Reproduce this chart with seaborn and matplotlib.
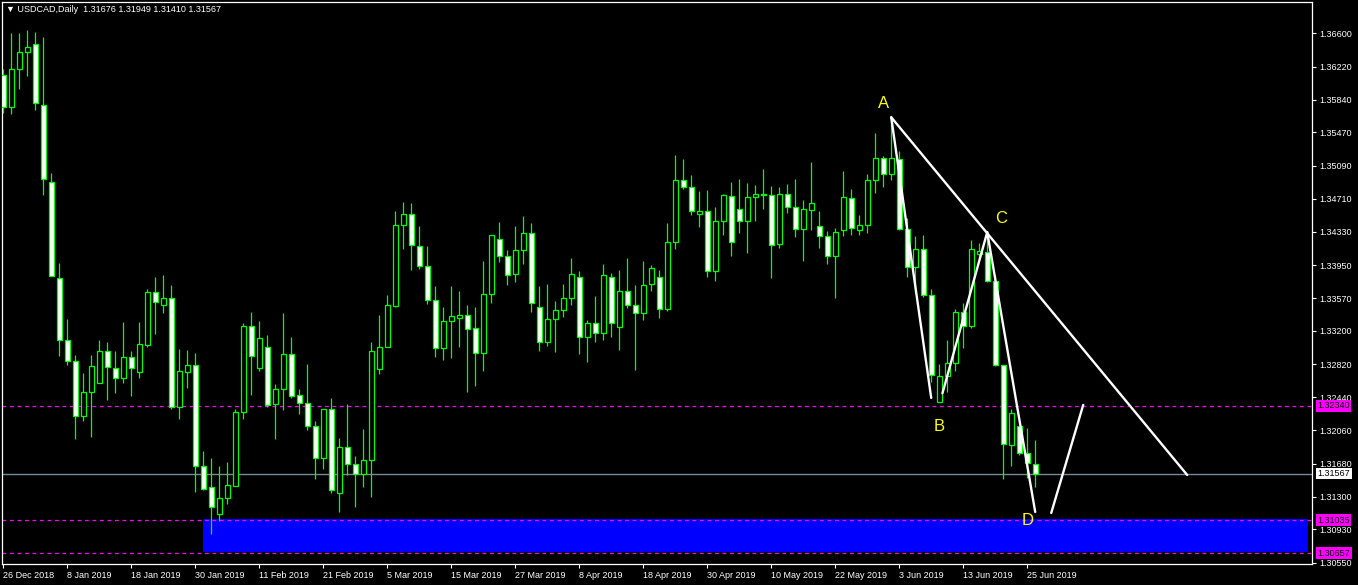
import numpy as np
import pandas as pd
import seaborn as sns
import matplotlib.pyplot as plt

# daily USDCAD candles (oldest first)
opens = [1.3612, 1.3576, 1.3619, 1.3639, 1.3648, 1.3578, 1.3490, 1.3380, 1.3310, 1.3286,
         1.3222, 1.3250, 1.3260, 1.3297, 1.3278, 1.3266, 1.3290, 1.3273, 1.3304, 1.3364,
         1.3350, 1.3358, 1.3233, 1.3273, 1.3281, 1.3165, 1.3141, 1.3111, 1.3129, 1.3143,
         1.3227, 1.3325, 1.3277, 1.3301, 1.3236, 1.3253, 1.3294, 1.3247, 1.3237, 1.3211,
         1.3175, 1.3231, 1.3134, 1.3187, 1.3168, 1.3156, 1.3172, 1.3276, 1.3301, 1.3348,
         1.3441, 1.3454, 1.3417, 1.3394, 1.3355, 1.3300, 1.3331, 1.3335, 1.3338, 1.3323,
         1.3295, 1.3362, 1.3425, 1.3406, 1.3385, 1.3412, 1.3432, 1.3347, 1.3307, 1.3334,
         1.3344, 1.3358, 1.3381, 1.3313, 1.3329, 1.3317, 1.3382, 1.3324, 1.3366, 1.3350,
         1.3340, 1.3373, 1.3381, 1.3345, 1.3421, 1.3492, 1.3484, 1.3454, 1.3457, 1.3388,
         1.3445, 1.3474, 1.3459, 1.3446, 1.3473, 1.3476, 1.3475, 1.3419, 1.3476, 1.3461,
         1.3436, 1.3458, 1.3440, 1.3428, 1.3405, 1.3435, 1.3472, 1.3435, 1.3441, 1.3492,
         1.3518, 1.3499, 1.3517, 1.3436, 1.3393, 1.3414, 1.3361, 1.3238, 1.3268, 1.3283,
         1.3341, 1.3325, 1.3408, 1.3410, 1.3377, 1.3281, 1.3189, 1.3211, 1.3180, 1.31676]
highs = [1.3619, 1.3661, 1.3661, 1.3664, 1.3662, 1.3656, 1.3501, 1.3397, 1.3334, 1.3292,
         1.3272, 1.3292, 1.3310, 1.3307, 1.3297, 1.3330, 1.3297, 1.3330, 1.3368, 1.3381,
         1.3384, 1.3372, 1.3299, 1.3298, 1.3295, 1.3183, 1.3175, 1.3165, 1.3170, 1.3230,
         1.3329, 1.3341, 1.3331, 1.3315, 1.3259, 1.3340, 1.3313, 1.3254, 1.3282, 1.3217,
         1.3231, 1.3243, 1.3197, 1.3236, 1.3177, 1.3208, 1.3307, 1.3338, 1.3361, 1.3457,
         1.3467, 1.3466, 1.3440, 1.3417, 1.3371, 1.3347, 1.3371, 1.3366, 1.3349, 1.3347,
         1.3400, 1.3429, 1.3444, 1.3412, 1.3440, 1.3451, 1.3443, 1.3371, 1.3374, 1.3354,
         1.3374, 1.3403, 1.3388, 1.3332, 1.3360, 1.3396, 1.3386, 1.3390, 1.3403, 1.3372,
         1.3400, 1.3395, 1.3390, 1.3443, 1.3521, 1.3517, 1.3498, 1.3480, 1.3481, 1.3462,
         1.3477, 1.3490, 1.3494, 1.3489, 1.3487, 1.3505, 1.3486, 1.3485, 1.3488, 1.3494,
         1.3470, 1.3513, 1.3457, 1.3434, 1.3438, 1.3503, 1.3482, 1.3452, 1.3499, 1.3546,
         1.3520, 1.3564, 1.3526, 1.3449, 1.3428, 1.3430, 1.3368, 1.3282, 1.3310, 1.3345,
         1.3352, 1.3424, 1.3420, 1.3433, 1.3384, 1.3281, 1.3231, 1.3211, 1.3209, 1.31949]
lows = [1.3569, 1.3568, 1.3596, 1.3611, 1.3572, 1.3475, 1.3383, 1.3291, 1.3281, 1.3196,
        1.3217, 1.3199, 1.3260, 1.3241, 1.3249, 1.3260, 1.3245, 1.3266, 1.3301, 1.3316,
        1.3340, 1.3230, 1.3219, 1.3255, 1.3136, 1.3138, 1.3088, 1.3103, 1.3122, 1.3143,
        1.3219, 1.3247, 1.3274, 1.3233, 1.3196, 1.3229, 1.3243, 1.3225, 1.3206, 1.3150,
        1.3162, 1.3134, 1.3113, 1.3155, 1.3118, 1.3141, 1.3130, 1.3271, 1.3301, 1.3347,
        1.3413, 1.3390, 1.3391, 1.3351, 1.3290, 1.3287, 1.3289, 1.3301, 1.3250, 1.3257,
        1.3274, 1.3352, 1.3399, 1.3372, 1.3376, 1.3396, 1.3342, 1.3297, 1.3303, 1.3296,
        1.3336, 1.3349, 1.3294, 1.3284, 1.3307, 1.3310, 1.3313, 1.3298, 1.3346, 1.3275,
        1.3332, 1.3366, 1.3335, 1.3343, 1.3413, 1.3482, 1.3452, 1.3439, 1.3381, 1.3377,
        1.3430, 1.3406, 1.3432, 1.3409, 1.3445, 1.3459, 1.3380, 1.3415, 1.3455, 1.3427,
        1.3400, 1.3435, 1.3415, 1.3396, 1.3357, 1.3428, 1.3430, 1.3429, 1.3432, 1.3478,
        1.3485, 1.3493, 1.3435, 1.3381, 1.3363, 1.3359, 1.3262, 1.3238, 1.3250, 1.3274,
        1.3300, 1.3323, 1.3402, 1.3376, 1.3280, 1.3151, 1.3165, 1.3178, 1.3152, 1.31410]
closes = [1.3576, 1.3619, 1.3639, 1.3644, 1.3580, 1.3494, 1.3383, 1.3310, 1.3286, 1.3223,
          1.3250, 1.3280, 1.3297, 1.3279, 1.3266, 1.3290, 1.3278, 1.3305, 1.3364, 1.3353,
          1.3358, 1.3233, 1.3274, 1.3281, 1.3165, 1.3139, 1.3118, 1.3129, 1.3144, 1.3227,
          1.3325, 1.3291, 1.3312, 1.3235, 1.3254, 1.3294, 1.3245, 1.3237, 1.3211, 1.3175,
          1.3231, 1.3138, 1.3187, 1.3168, 1.3156, 1.3172, 1.3297, 1.3302, 1.3349, 1.3441,
          1.3454, 1.3418, 1.3394, 1.3355, 1.3300, 1.3331, 1.3337, 1.3338, 1.3322, 1.3295,
          1.3362, 1.3429, 1.3406, 1.3384, 1.3412, 1.3432, 1.3352, 1.3307, 1.3334, 1.3344,
          1.3358, 1.3385, 1.3313, 1.3329, 1.3317, 1.3384, 1.3329, 1.3366, 1.3350, 1.3340,
          1.3372, 1.3392, 1.3345, 1.3422, 1.3492, 1.3484, 1.3457, 1.3457, 1.3388, 1.3445,
          1.3475, 1.3421, 1.3446, 1.3473, 1.3476, 1.3475, 1.3418, 1.3476, 1.3461, 1.3436,
          1.3459, 1.3466, 1.3428, 1.3405, 1.3433, 1.3473, 1.3437, 1.3441, 1.3492, 1.3518,
          1.3499, 1.3518, 1.3436, 1.3393, 1.3414, 1.3361, 1.3270, 1.3268, 1.3283, 1.3342,
          1.3325, 1.3413, 1.3411, 1.3377, 1.3281, 1.3190, 1.3226, 1.3180, 1.3169, 1.31567]

date_labels = ['26 Dec 2018', '8 Jan 2019', '18 Jan 2019', '30 Jan 2019', '11 Feb 2019',
               '21 Feb 2019', '5 Mar 2019', '15 Mar 2019', '27 Mar 2019', '8 Apr 2019',
               '18 Apr 2019', '30 Apr 2019', '10 May 2019', '22 May 2019', '3 Jun 2019',
               '13 Jun 2019', '25 Jun 2019']
price_ticks = [1.36600, 1.36220, 1.35840, 1.35470, 1.35090, 1.34710, 1.34330, 1.33950,
               1.33570, 1.33200, 1.32820, 1.32440, 1.32060, 1.31680, 1.31300, 1.30930, 1.30550]

# horizontal levels
last_price = 1.31567
level_lines = [1.32340, 1.31035, 1.30657]
zone_top, zone_bottom, zone_start, zone_end = 1.31050, 1.30665, 25, 163.1

# ABCD drawing (bar index, price)
seg_bars = [111, 116, 117.4, 123, 111, 148, 123, 129, 131, 135]
seg_prices = [1.35642, 1.32432, 1.32485, 1.34327, 1.35642, 1.31551, 1.34327, 1.31128, 1.31116, 1.32352]
seg_ids = [0, 0, 1, 1, 2, 2, 3, 3, 4, 4]
point_names = ['A', 'B', 'C', 'D']
point_bars = [110, 117, 124.8, 128]
point_prices = [1.35794, 1.32111, 1.34479, 1.31025]

sns.set_style('dark', {'axes.facecolor': 'black', 'figure.facecolor': 'black'})
plt.rcParams['font.family'] = ['Liberation Sans', 'DejaVu Sans']

green = '#00ff00'
fig = plt.figure(figsize=(13.58, 5.85), dpi=100)
ax = fig.add_axes([2 / 1358, 1 - 564 / 585, 1310 / 1358, 562 / 585])
ax.set_facecolor('black')

n = len(opens)
x = np.arange(n)
o = np.array(opens); c = np.array(closes)

# support zone + levels
ax.fill_between([zone_start, zone_end], zone_bottom, zone_top, color='#0000ff', lw=0, zorder=1)
for lv in level_lines:
    ax.axhline(lv, color='#ff00ff', lw=0.9, ls=(0, (3, 3)), zorder=2)
ax.axhline(last_price, color='#778899', lw=1, zorder=2)

# candles: white body = bearish, black body = bullish
ax.vlines(x, lows, highs, color=green, lw=0.9, zorder=3)
bear = c < o
ax.bar(x, np.maximum(np.abs(c - o), 0.00003), bottom=np.minimum(o, c), width=0.6,
       color=np.where(bear, 'white', 'black'), edgecolor=green, linewidth=0.9, zorder=4)

# pattern lines
segs = pd.DataFrame({'bar': seg_bars, 'price': seg_prices, 'seg': seg_ids})
sns.lineplot(data=segs, x='bar', y='price', units='seg', estimator=None, sort=False,
             color='white', lw=1.7, ax=ax, zorder=5)
for name, b, p in zip(point_names, point_bars, point_prices):
    ax.text(b, p, name, color='#ffff00', fontsize=12, ha='center', va='center', zorder=6)

ax.set_xlim(-0.16, 163.6)
ax.set_ylim(1.30533, 1.36960)
ax.set_xlabel('')
ax.set_ylabel('')

ax.yaxis.tick_right()
ax.set_yticks(price_ticks)
ax.set_yticklabels([f'{t:.5f}' for t in price_ticks])
ax.set_xticks(np.arange(0, 8 * len(date_labels), 8))
ax.set_xticklabels(date_labels, ha='left')
ax.tick_params(axis='both', colors='white', labelsize=6.5, length=3, width=0.8, direction='out')
ax.tick_params(axis='y', pad=2, left=False, right=True)
ax.tick_params(axis='x', pad=2, bottom=True)
for sp in ax.spines.values():
    sp.set_visible(True)
    sp.set_color('white')
    sp.set_linewidth(0.9)
ax.grid(False)

# boxed price labels on the right scale
boxes = [(1.32340, '#ff00ff'), (last_price, 'white'), (1.31035, '#ff00ff'), (1.30657, '#ff00ff')]
for p, col in boxes:
    ax.annotate(f'{p:.5f}', xy=(1.0, p), xycoords=('axes fraction', 'data'),
                xytext=(4, 0), textcoords='offset points', va='center', ha='left',
                fontsize=6.5, color='black',
                bbox=dict(boxstyle='square,pad=0.15', fc=col, ec='none'), zorder=10,
                annotation_clip=False)

fig.text(6 / 1358, 1 - 10 / 585, '\u25bc USDCAD,Daily  1.31676 1.31949 1.31410 1.31567',
         color='white', fontsize=6.5, va='center', ha='left')

fig.savefig('out.png', dpi=100, facecolor='black')
